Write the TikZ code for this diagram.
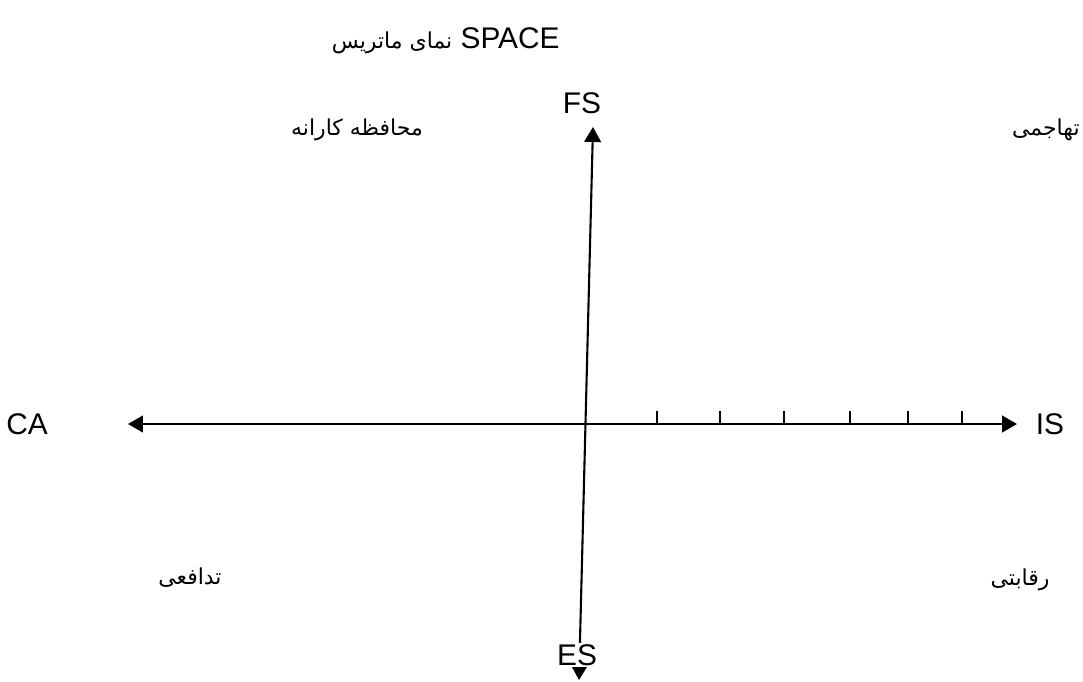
\documentclass[tikz,border=0pt]{standalone}
\usepackage{fontspec}
\setmainfont{Liberation Sans}
\newfontfamily\arabicfont[Script=Arabic]{DejaVu Sans}
\TeXXeTstate=1
\usetikzlibrary{arrows.meta}

\begin{document}
\begin{tikzpicture}[
  x=0.02cm, y=-0.02cm,
  axis/.style={line width=1.2pt, {Triangle[length=8.5pt,width=9.5pt]}-{Triangle[length=8.5pt,width=9.5pt]}},
  lbl/.style={font=\fontsize{17}{20}\selectfont, inner sep=0pt},
  fa/.style={font=\fontsize{12.5}{16}\selectfont\arabicfont, inner sep=0pt},
]
\useasboundingbox (0,0) rectangle (1083,681);
% Title
\node[lbl, anchor=east] (title) at (560,41) {{\arabicfont\fontsize{12.5}{16}\selectfont\beginR نمای ماتریس\endR} SPACE};
% Axis ends
\coordinate (fsend) at (593,127);
\coordinate (esend) at (579,680);
\coordinate (caend) at (128,424);
\coordinate (isend) at (1017,424);
% Axes
\draw[axis] (caend) -- (isend);
\draw[axis] (esend) -- (fsend);
% Ticks
\foreach \tx in {657,720,784,850,908,962}
  \draw[line width=1pt] (\tx,424) -- (\tx,411);
% Axis labels
\node[lbl] (fs) at (582,103) {FS};
\node[lbl, fill=white, inner sep=1pt] (es) at (577,655) {ES};
\node[lbl] (ca) at (27,424) {CA};
\node[lbl] (is) at (1050,424) {IS};
% Quadrant labels
\node[fa] (cons) at (357,130) {\beginR محافظه کارانه\endR};
\node[fa, anchor=east] (aggr) at (1080,130) {\beginR تهاجمی\endR};
\node[fa] (defn) at (190,578) {\beginR تدافعی\endR};
\node[fa] (comp) at (1020,580) {\beginR رقابتی\endR};
\end{tikzpicture}
\end{document}
